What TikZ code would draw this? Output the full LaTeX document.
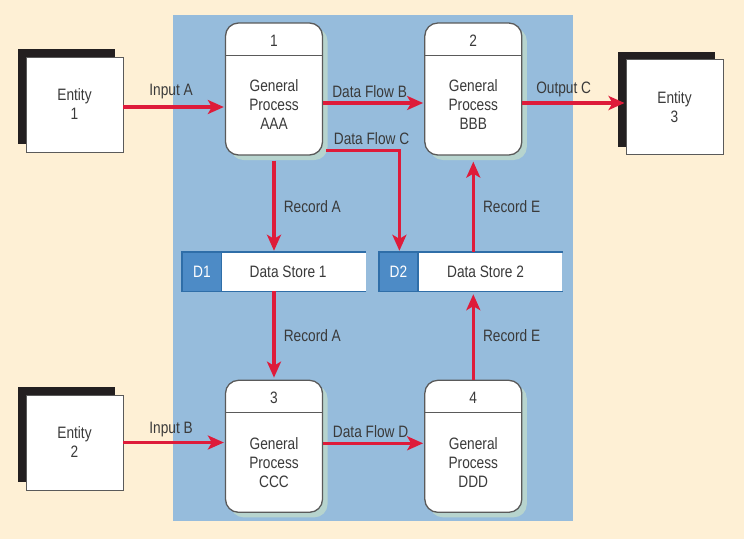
\documentclass[tikz,border=0pt]{standalone}
\usepackage{fontspec}
\setmainfont{Liberation Sans}[FakeStretch=0.83]
\usetikzlibrary{positioning,arrows.meta,shadows}

\definecolor{cream}{HTML}{FEF0D5}
\definecolor{panelblue}{HTML}{96BCDC}
\definecolor{flowred}{HTML}{DE1B3A}
\definecolor{prshade}{HTML}{B7D4CE}
\definecolor{entshade}{HTML}{231F20}
\definecolor{boxline}{HTML}{5A5A5A}
\definecolor{ink}{HTML}{3A3A3A}
\definecolor{storeblue}{HTML}{2F6EA8}
\definecolor{tabblue}{HTML}{4D8BC6}

\begin{document}
\begin{tikzpicture}[
        x=1pt, y=1pt,
        every node/.style={font=\fontsize{16.5}{19}\selectfont, text=ink},
        entity/.style={draw=boxline, line width=0.9pt, fill=white, minimum width=97pt, minimum height=95pt, align=center,
            drop shadow={shadow xshift=-8pt, shadow yshift=8pt, fill=entshade, opacity=1}},
        process/.style={draw=boxline, line width=1.3pt, fill=white, rounded corners=13pt, minimum width=97pt, minimum height=132pt,
            drop shadow={shadow xshift=5pt, shadow yshift=-5pt, fill=prshade, opacity=1}},
        divider/.style={draw=boxline, line width=1.3pt},
        prtext/.style={align=center},
        store/.style={fill=white, minimum width=184pt, minimum height=39pt, inner sep=0pt},
        storeedge/.style={draw=storeblue, line width=1.4pt},
        storetab/.style={fill=tabblue, draw=storeblue, line width=1.4pt, minimum width=39pt, minimum height=39pt, inner sep=0pt, text=white},
        flow/.style={draw=flowred, line width=3.6pt, shorten >=1pt, -{Stealth[length=16pt, width=14pt, inset=4pt]}},
        flowlabel/.style={above=2pt, inner sep=2pt},
        sidelabel/.style={right=6pt, inner sep=2pt}
    ]
        \fill[cream] (0,0) rectangle (744,-539);
        \fill[panelblue] (173,-15) rectangle (573,-521);

        \node[entity] (E1) at (74.5,-104.5) {Entity\\1};
        \node[entity] (E2) at (74.5,-442.5) {Entity\\2};
        \node[entity] (E3) at (674.5,-107) {Entity\\3};

        \node[process] (P1) at (274,-89) {};
        \node[process, right=101pt of P1] (P2) {};
        \node[process, below=224pt of P1] (P3) {};
        \node[process, right=101pt of P3] (P4) {};
        \foreach \p/\num/\txt in {P1/1/AAA, P2/2/BBB, P3/3/CCC, P4/4/DDD} {
            \draw[divider] ([yshift=-33pt]\p.north west) -- ([yshift=-33pt]\p.north east);
            \node (\p n) at ([yshift=-18pt]\p.north) {\num};
            \node[prtext] (\p t) at ([yshift=-16pt]\p.center) {General\\Process\\\txt};
        }

        \node[store] (D1) at (274,-271.5) {};
        \node[store, right=12pt of D1] (D2) {};
        \foreach \s/\gap/\k in {D1/24pt/1, D2/25pt/2} {
            \draw[storeedge] (\s.north east) -- (\s.north west) -- (\s.south west) -- (\s.south east);
            \node[storetab, anchor=north west] (\s tab) at (\s.north west) {\s};
            \node[anchor=west] (\s l) at ([xshift=\gap]\s tab.east) {Data Store \k};
        }

        \draw[flow] ([yshift=-2.5pt]E1.east) -- ([yshift=-2.5pt]E1.east -| P1.west) node[flowlabel, above=4pt, pos=0.47] {Input A};
        \draw[flow] ([yshift=-14pt]P1.east) -- ([yshift=-14pt]P2.west) node[flowlabel, pos=0.46] {Data Flow B};
        \draw[flow] ([yshift=-14pt]P2.east) -- ([yshift=-14pt]P2.east -| E3.west) node[flowlabel, pos=0.4] {Output C};
        \draw[flow] ([xshift=3pt, yshift=5pt]P1.south east) -| ([xshift=-71pt]D2.north) node[flowlabel, pos=0.31] {Data Flow C};
        \draw[flow] ([yshift=-5pt]P1.south) -- (P1.south |- D1.north) node[sidelabel, midway] {Record A};
        \draw[flow, shorten >=2pt] (P3.north |- D1.south) -- (P3.north) node[sidelabel, midway] {Record A};
        \draw[flow] (D2.north -| P2.south) -- ([yshift=-5pt]P2.south) node[sidelabel, midway] {Record E};
        \draw[flow, shorten >=3pt] (P4.north) -- (P4.north |- D2.south) node[sidelabel, midway] {Record E};
        \draw[flow] (E2.east) -- (E2.east -| P3.west) node[flowlabel, pos=0.47] {Input B};
        \draw[flow] ([yshift=3pt]P3.east) -- ([yshift=3pt]P4.west) node[flowlabel, pos=0.47] {Data Flow D};
    \end{tikzpicture}
\end{document}
